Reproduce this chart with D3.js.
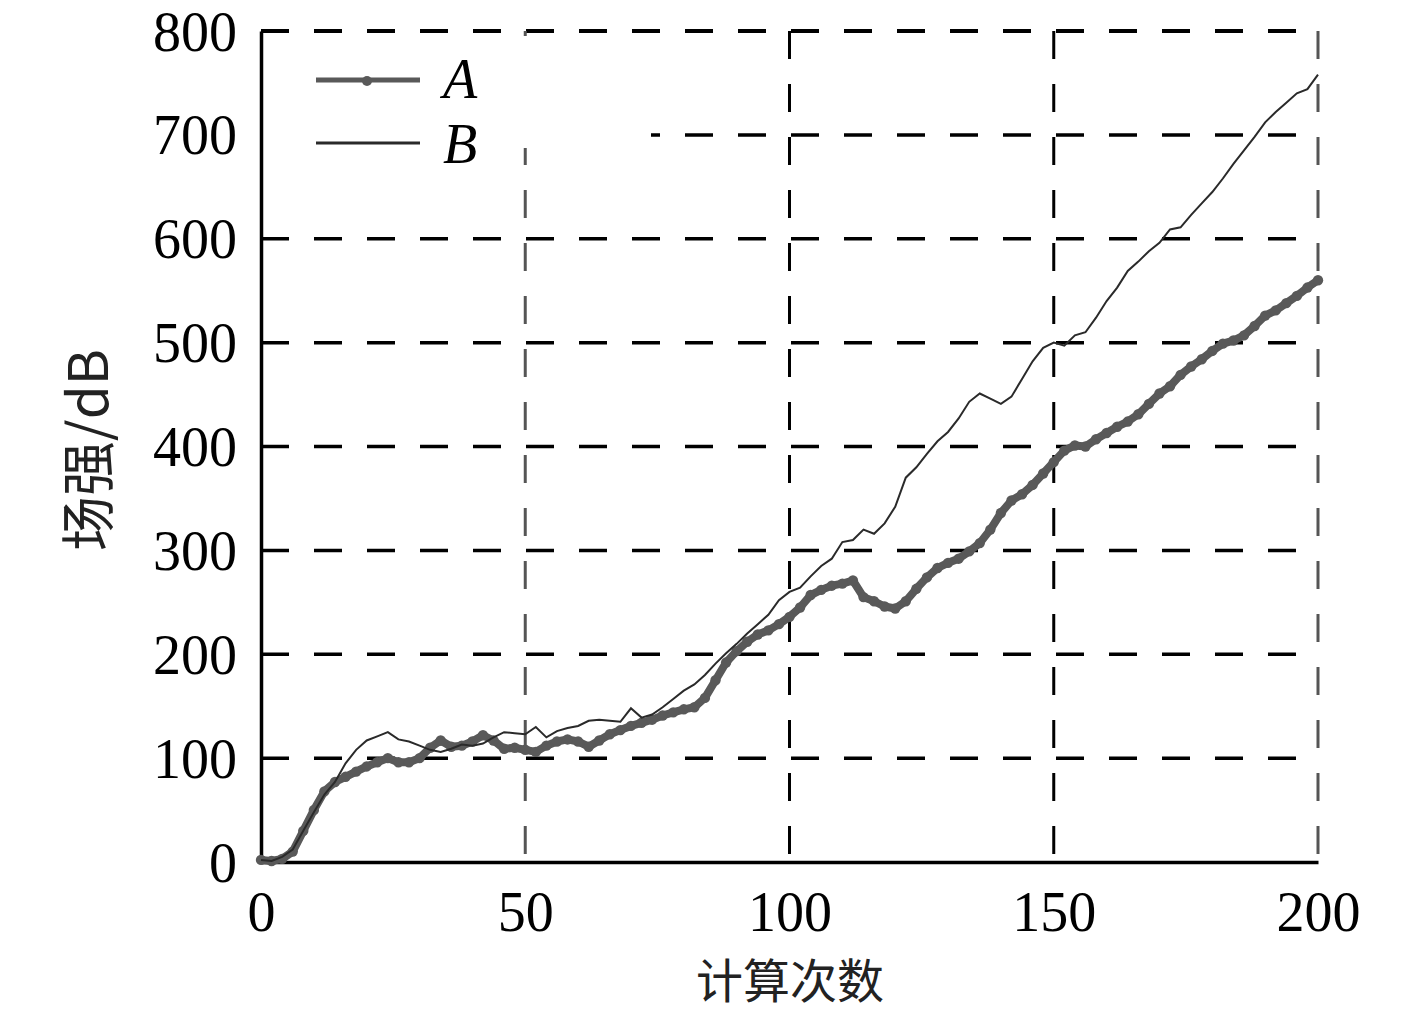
<!DOCTYPE html>
<html><head><meta charset="utf-8">
<script src="https://cdn.jsdelivr.net/npm/d3@7"></script>
<style>body{margin:0;background:#fff}</style>
</head><body>
<svg id="c" width="1417" height="1016"></svg>
<script>
const steps = [0,2,4,6,8,10,12,14,16,18,20,22,24,26,28,30,32,34,36,38,40,42,44,46,48,50,52,54,56,58,60,62,64,66,68,70,72,74,76,78,80,82,84,86,88,90,92,94,96,98,100,102,104,106,108,110,112,114,116,118,120,122,124,126,128,130,132,134,136,138,140,142,144,146,148,150,152,154,156,158,160,162,164,166,168,170,172,174,176,178,180,182,184,186,188,190,192,194,196,198,200];
const seriesA = [2,1,3,10,30,50,68,77,82,87,92,96,100,96,96,100,110,117,111,112,116,122,117,109,110,108,106,112,116,118,116,111,117,123,127,131,134,137,141,144,147,149,158,175,192,203,212,219,223,229,236,245,257,262,266,268,271,255,251,246,244,251,263,274,283,288,292,299,307,320,336,348,354,363,374,385,396,401,400,407,413,419,424,431,441,451,458,469,477,484,492,499,502,507,516,526,531,538,545,553,560];
const seriesB = [2,1,5,12,30,48,65,77,95,108,117,121,125,118,116,112,108,106,109,113,112,114,120,125,124,123,130,120,126,129,131,136,137,136,135,148,139,142,149,157,165,171,180,191,201,210,220,229,238,252,260,264,275,285,292,308,310,320,316,326,342,370,380,393,405,414,427,443,451,446,441,448,465,482,495,500,497,507,510,524,540,553,569,578,588,596,609,611,623,634,645,658,672,685,698,712,722,731,740,744,758];
const xTicks = [0,50,100,150,200];
const yTicks = [0,100,200,300,400,500,600,700,800];
const seriesNames = ["A","B"];
const xTitle = "计算次数";
const yTitle = "场强/dB";

const svg = d3.select("#c");
const L = 261, R = 1318, T = 31, B = 862;
const x = d3.scaleLinear().domain([0,200]).range([L,R]);
const y = d3.scaleLinear().domain([0,800]).range([B,T]);
const serif = "'Liberation Serif','Times New Roman',serif";

// horizontal dashed gridlines
const gH = svg.append("g");
yTicks.filter(v=>v>0).forEach(v=>{
  gH.append("line").attr("x1",L).attr("x2",R).attr("y1",y(v)).attr("y2",y(v))
    .attr("stroke","#000").attr("stroke-width", v===800?4:3.5).attr("stroke-dasharray","28,25");
});
// vertical dashed gridlines
xTicks.filter(v=>v>0).forEach(v=>{
  gH.append("line").attr("x1",x(v)).attr("x2",x(v)).attr("y1",T).attr("y2",B)
    .attr("stroke", (v===50||v===200)?"#555":"#000").attr("stroke-width",3).attr("stroke-dasharray","28,25");
});
// legend background covering grid
svg.append("rect").attr("x",L+2).attr("y",T+5).attr("width",388).attr("height",112).attr("fill","#fff");

// axes
const xAxis = d3.axisBottom(x).tickValues(xTicks).tickSize(0).tickPadding(29);
const yAxis = d3.axisLeft(y).tickValues(yTicks).tickSize(0).tickPadding(24);
const gx = svg.append("g").attr("transform",`translate(0,${B})`).call(xAxis);
const gy = svg.append("g").attr("transform",`translate(${L},0)`).call(yAxis);
[gx,gy].forEach(g=>{
  g.select(".domain").attr("stroke","#000").attr("stroke-width",3.5);
  g.selectAll("text").attr("font-family",serif).attr("font-size",56).attr("fill","#000");
});
gy.selectAll("text").attr("dy","0.34em");

// lines
const pts = k => steps.map((s,i)=>[s,k[i]]);
const line = d3.line().x(d=>x(d[0])).y(d=>y(d[1]));
svg.append("path").datum(pts(seriesA)).attr("d",line).attr("fill","none")
  .attr("stroke","#595959").attr("stroke-width",8).attr("stroke-linejoin","round").attr("stroke-linecap","round");
svg.append("g").selectAll("circle").data(pts(seriesA)).join("circle")
  .attr("cx",d=>x(d[0])).attr("cy",d=>y(d[1])).attr("r",5.2).attr("fill","#595959");
svg.append("path").datum(pts(seriesB)).attr("d",line).attr("fill","none")
  .attr("stroke","#2a2a2a").attr("stroke-width",2);

// legend
const lg = svg.append("g");
lg.append("line").attr("x1",316).attr("x2",420).attr("y1",80).attr("y2",80).attr("stroke","#595959").attr("stroke-width",5);
lg.append("circle").attr("cx",367).attr("cy",81).attr("r",5).attr("fill","#595959");
lg.append("line").attr("x1",316).attr("x2",420).attr("y1",143).attr("y2",143).attr("stroke","#2a2a2a").attr("stroke-width",3);
lg.append("text").attr("x",443).attr("y",98).text(seriesNames[0]).attr("font-family",serif).attr("font-style","italic").attr("font-size",56);
lg.append("text").attr("x",443).attr("y",163).text(seriesNames[1]).attr("font-family",serif).attr("font-style","italic").attr("font-size",56);

// titles
svg.append("text").attr("x",790).attr("y",998).attr("text-anchor","middle")
  .attr("font-family","'Noto Sans CJK SC',sans-serif").attr("font-size",47).attr("fill","#222").text(xTitle);
svg.append("text").attr("transform","translate(108,450) rotate(-90)").attr("text-anchor","middle")
  .attr("font-family","'Noto Sans CJK SC',sans-serif").attr("font-size",55).attr("fill","#222").text(yTitle);
</script>
</body></html>
